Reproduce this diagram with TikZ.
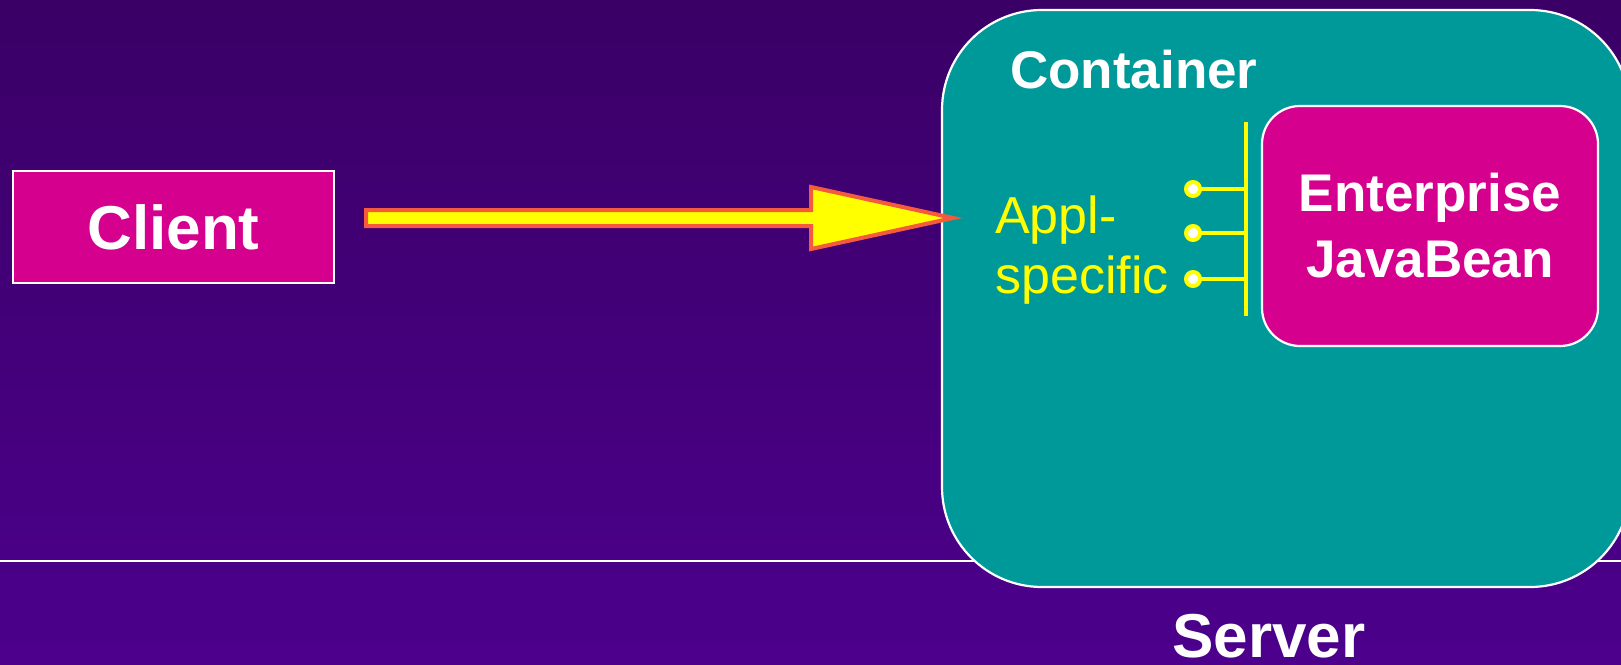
\documentclass[tikz,border=0pt]{standalone}
\usepackage{fontspec}
\setmainfont{Liberation Sans}
\usetikzlibrary{calc}
\definecolor{bgtop}{RGB}{58,0,102}
\definecolor{bgbot}{RGB}{76,0,140}
\definecolor{tealC}{RGB}{0,153,153}
\definecolor{magC}{RGB}{214,0,143}
\definecolor{yelC}{RGB}{255,255,0}
\definecolor{orC}{RGB}{245,90,60}
\tikzset{
  whiteedge/.style={draw=white, line width=2.2pt},
  clientbox/.style={whiteedge, fill=magC, minimum width=321pt, minimum height=112pt, inner sep=0pt,
    text=white, font=\bfseries\fontsize{62}{70}\selectfont},
  containerbox/.style={whiteedge, fill=tealC, rounded corners=100pt, minimum width=688pt, minimum height=577pt, inner sep=0pt},
  beanbox/.style={whiteedge, fill=magC, rounded corners=38pt, minimum width=336pt, minimum height=240pt, inner sep=0pt,
    text=white, align=center, font=\bfseries\fontsize{53}{66}\selectfont},
  whitelabel/.style={text=white, inner sep=0pt, font=\bfseries\fontsize{53}{60}\selectfont},
  serverlabel/.style={text=white, inner sep=0pt, font=\bfseries\fontsize{62}{70}\selectfont},
  yelabel/.style={text=yelC, inner sep=0pt, font=\fontsize{52}{60}\selectfont},
  yline/.style={draw=yelC, line width=3.5pt},
  ybar/.style={draw=yelC, line width=4.5pt},
  pincircle/.style={circle, draw=yelC, fill=white, line width=4pt, minimum size=14pt, inner sep=0pt},
  blockarrow/.style={draw=orC, fill=yelC, line width=4pt, line join=miter, miter limit=10}
}
\begin{document}
\begin{tikzpicture}[x=1pt,y=-1pt]
\useasboundingbox (0,0) rectangle (1621,664);
\clip (0,0) rectangle (1621,664);
\shade[top color=bgtop, bottom color=bgbot] (0,0) rectangle (1621,664);
% horizontal rule
\coordinate (ruleL) at (0,561);
\coordinate (ruleR) at (1621,561);
\draw[white, line width=1.5pt] (ruleL) -- (ruleR);
% container
\node[containerbox] (container) at (1286,298.5) {};
\node[whitelabel, anchor=base west] (containerlabel) at (1010,88) {Container};
% bean
\node[beanbox] (bean) at (1430,226) {Enterprise\\JavaBean};
% interface
\coordinate (bartop) at (1246,122);
\coordinate (barbot) at (1246,316);
\draw[ybar] (bartop) -- (barbot);
\draw[yline] (1193,189) coordinate (l1) -- (l1 -| bartop);
\draw[yline] (1193,233) coordinate (l2) -- (l2 -| bartop);
\draw[yline] (1193,279) coordinate (l3) -- (l3 -| bartop);
\node[pincircle] (p1) at (l1) {};
\node[pincircle] (p2) at (l2) {};
\node[pincircle] (p3) at (l3) {};
\node[yelabel, anchor=base west] (appl) at (995,233) {Appl-};
\node[yelabel, anchor=base west] (specific) at (995,293) {specific};
% client
\node[clientbox] (client) at (173.5,227) {Client};
% block arrow
\coordinate (arrowtail) at (366,218);
\coordinate (arrowtip) at (953,218);
\draw[blockarrow] ($(arrowtail)+(0,-8)$) -- ($(arrowtip)+(-142,-8)$) -- ($(arrowtip)+(-142,-31)$)
  -- (arrowtip) -- ($(arrowtip)+(-142,31)$) -- ($(arrowtip)+(-142,8)$) -- ($(arrowtail)+(0,8)$) -- cycle;
% server
\node[serverlabel, anchor=base] (server) at (1269,657) {Server};
\end{tikzpicture}
\end{document}
